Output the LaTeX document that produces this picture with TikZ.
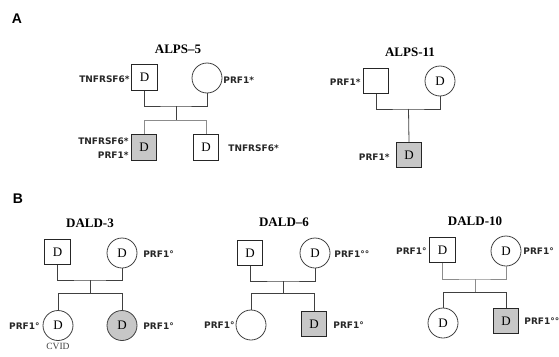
\documentclass[tikz,border=0pt]{standalone}
\usepackage{fontspec}
\setmainfont{Liberation Serif}
\newfontfamily\lblfont{DejaVu Sans}
\newfontfamily\panelfont{Liberation Sans}
\begin{document}
\begin{tikzpicture}[x=1pt,y=-1pt,
  line width=0.8pt,
  sq/.style={draw=black!85,minimum size=25.5pt,inner sep=0pt,font=\fontsize{13}{13}\selectfont},
  ci/.style={draw=black!75,circle,minimum size=30pt,inner sep=0pt,font=\fontsize{13}{13}\selectfont},
  aff/.style={fill=black!22},
  ttl/.style={font=\fontsize{13}{13}\selectfont\bfseries},
  gl/.style={font=\lblfont\fontsize{9}{9}\selectfont\bfseries,text=black!85,inner sep=0pt},
  pl/.style={font=\panelfont\fontsize{14}{14}\selectfont\bfseries,inner sep=0pt},
  ln/.style={draw=black!75,line width=0.8pt},
  gln/.style={draw=black!45,line width=1pt}]
\useasboundingbox (0,0) rectangle (559,356);

% Panel labels
\node[pl] (lA) at (17,19) {A};
\node[pl] (lB) at (18,199) {B};

% ===== ALPS-5 =====
\node[ttl] (t1) at (178,49) {ALPS–5};
\node[sq] (f1) at (144.5,77.5) {D};
\node[ci] (m1) at (207,78) {};
\node[sq,aff] (c1a) at (144,147.5) {D};
\node[sq] (c1b) at (206,147.5) {D};
\coordinate (p1) at (176,106);
\coordinate (s1) at (176,120);
\draw[ln] (f1.south) |- (p1) -| (m1.south);
\draw[ln] (p1) -- (s1);
\draw[gln] (s1) -| (c1a.north);
\draw[gln] (s1) -| (c1b.north);
\node[gl,anchor=east] (g1) at (130,79) {TNFRSF6*};
\node[gl,anchor=west] (g2) at (223,80) {PRF1*};
\node[gl,anchor=east] (g3) at (129,141) {TNFRSF6*};
\node[gl,anchor=east] (g4) at (129,155) {PRF1*};
\node[gl,anchor=west] (g5) at (228,148) {TNFRSF6*};

% ===== ALPS-11 =====
\node[ttl] (t2) at (410,52) {ALPS-11};
\node[sq] (f2) at (376,81) {};
\node[ci] (m2) at (440,81) {D};
\node[sq,aff] (c2) at (409,155) {D};
\coordinate (p2) at (408.5,109);
\draw[ln] (f2.south) |- (p2) -| (m2.south);
\draw[ln] (p2) -- (c2.north);
\node[gl,anchor=east] (g6) at (361,82) {PRF1*};
\node[gl,anchor=east] (g7) at (390,157) {PRF1*};

% ===== DALD-3 =====
\node[ttl] (t3) at (90,223) {DALD-3};
\node[sq] (f3) at (57.5,252) {D};
\node[ci] (m3) at (122,253) {D};
\node[ci] (c3a) at (58,325.5) {D};
\node[ci,aff] (c3b) at (122,325.5) {D};
\coordinate (p3) at (90,280);
\coordinate (s3) at (90,293);
\draw[ln] (f3.south) |- (p3) -| (m3.south);
\draw[ln] (p3) -- (s3);
\draw[ln] (s3) -| (c3a.north);
\draw[ln] (s3) -| (c3b.north);
\node[gl,anchor=west] (g8) at (143,254) {PRF1°};
\node[gl,anchor=east] (g9) at (40,326) {PRF1°};
\node[gl,anchor=west] (g10) at (143,326) {PRF1°};
\node[font=\fontsize{9.5}{10}\selectfont,text=black!75,inner sep=0pt] (cv) at (58,346) {CVID};

% ===== DALD-6 =====
\node[ttl] (t4) at (284,222) {DALD–6};
\node[sq] (f4) at (250,253) {D};
\node[ci] (m4) at (315,253) {D};
\node[ci] (c4a) at (251,325) {};
\node[sq,aff] (c4b) at (314,324) {D};
\coordinate (p4) at (283.5,281);
\coordinate (s4) at (283.5,293);
\draw[ln] (f4.south) |- (p4) -| (m4.south);
\draw[ln] (p4) -- (s4);
\draw[ln] (s4) -| (c4a.north);
\draw[ln] (s4) -| (c4b.north);
\node[gl,anchor=west] (g11) at (334,254) {PRF1°°};
\node[gl,anchor=east] (g12) at (235,325) {PRF1°};
\node[gl,anchor=west] (g13) at (333,325) {PRF1°};

% ===== DALD-10 =====
\node[ttl] (t5) at (475,221) {DALD-10};
\node[sq] (f5) at (442.5,250) {D};
\node[ci] (m5) at (506,251) {D};
\node[ci] (c5a) at (443,323) {D};
\node[sq,aff] (c5b) at (506,321) {D};
\coordinate (p5) at (475,279);
\coordinate (s5) at (475,292);
\draw[gln] (f5.south) |- (p5) -| (m5.south);
\draw[gln] (p5) -- (s5);
\draw[ln] (s5) -| (c5a.north);
\draw[ln] (s5) -| (c5b.north);
\node[gl,anchor=east] (g14) at (427,251) {PRF1°};
\node[gl,anchor=west] (g15) at (523,251) {PRF1°};
\node[gl,anchor=west] (g16) at (524,321) {PRF1°°};
\end{tikzpicture}
\end{document}
